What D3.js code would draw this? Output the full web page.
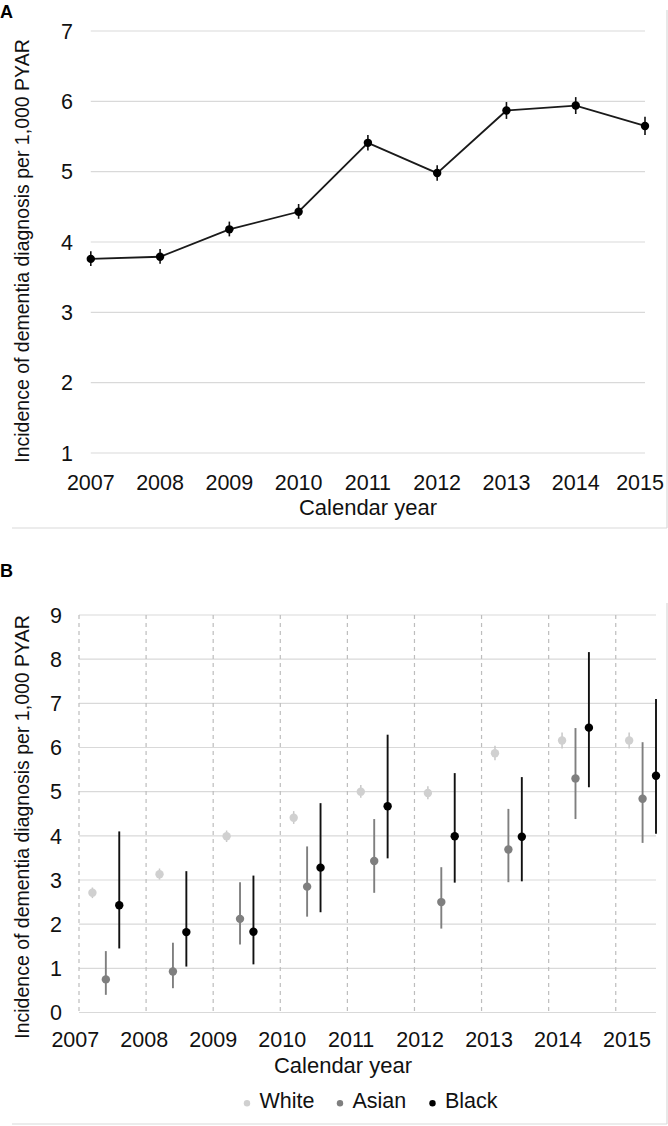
<!DOCTYPE html>
<html>
<head>
<meta charset="utf-8">
<script src="https://cdn.jsdelivr.net/npm/d3@7/dist/d3.min.js"></script>
<style>
  html, body { margin: 0; padding: 0; background: #ffffff; }
  svg { display: block; font-family: "Liberation Sans", Arial, sans-serif; }
</style>
</head>
<body>
<svg id="chart" width="668" height="1126"></svg>
<script>
// ---------- data ----------
const years = [2007, 2008, 2009, 2010, 2011, 2012, 2013, 2014, 2015];
const yearLabels = ["2007", "2008", "2009", "2010", "2011", "2012", "2013", "2014", "2015"];

// Panel A: overall incidence
const overallRate  = [3.76, 3.79, 4.18, 4.43, 5.41, 4.98, 5.87, 5.94, 5.65];
const overallLower = [3.66, 3.69, 4.08, 4.33, 5.30, 4.87, 5.75, 5.82, 5.52];
const overallUpper = [3.87, 3.90, 4.29, 4.54, 5.52, 5.09, 5.99, 6.06, 5.78];

// Panel B: by ethnicity
const seriesNames = ["White", "Asian", "Black"];
const whiteRate  = [2.71, 3.13, 3.99, 4.41, 5.00, 4.97, 5.87, 6.16, 6.16];
const whiteLower = [2.59, 3.01, 3.86, 4.27, 4.86, 4.83, 5.71, 5.98, 5.98];
const whiteUpper = [2.83, 3.26, 4.12, 4.56, 5.15, 5.12, 6.04, 6.34, 6.34];
const asianRate  = [0.75, 0.93, 2.12, 2.85, 3.43, 2.50, 3.69, 5.30, 4.84];
const asianLower = [0.40, 0.55, 1.54, 2.17, 2.71, 1.90, 2.95, 4.38, 3.84];
const asianUpper = [1.39, 1.58, 2.95, 3.76, 4.38, 3.29, 4.61, 6.44, 6.12];
const blackRate  = [2.43, 1.82, 1.83, 3.28, 4.67, 3.99, 3.98, 6.45, 5.36];
const blackLower = [1.45, 1.04, 1.09, 2.27, 3.49, 2.94, 2.97, 5.10, 4.05];
const blackUpper = [4.10, 3.20, 3.10, 4.74, 6.29, 5.42, 5.33, 8.16, 7.10];

const yTicksA = [1, 2, 3, 4, 5, 6, 7];
const yTicksB = [0, 1, 2, 3, 4, 5, 6, 7, 8, 9];
const xTitle = "Calendar year";
const yTitle = "Incidence of dementia diagnosis per 1,000 PYAR";

// ---------- style ----------
const gridColor = "#d9d9d9";
const seriesColors = { White: "#d0d0d0", Asian: "#7f7f7f", Black: "#000000" };
const barColors = { White: "#c8c8c8", Asian: "#7f7f7f", Black: "#111111" };
const seriesOffsets = { White: 0.2, Asian: 0.4, Black: 0.6 };
const tickFont = "21.5px";
const titleFont = "22px";

const svg = d3.select("#chart");

// panel frames (partial border lines)
svg.append("line").attr("x1", 12).attr("x2", 667).attr("y1", 528).attr("y2", 528)
  .attr("stroke", gridColor).attr("stroke-width", 1.2);
svg.append("line").attr("x1", 667).attr("x2", 667).attr("y1", 10).attr("y2", 528)
  .attr("stroke", gridColor).attr("stroke-width", 1.2);
svg.append("line").attr("x1", 12).attr("x2", 667).attr("y1", 1124).attr("y2", 1124)
  .attr("stroke", gridColor).attr("stroke-width", 1.2);
svg.append("line").attr("x1", 667).attr("x2", 667).attr("y1", 603).attr("y2", 1124)
  .attr("stroke", gridColor).attr("stroke-width", 1.2);

// panel letters
svg.append("text").attr("x", 0).attr("y", 18).text("A")
  .attr("font-size", "18px").attr("font-weight", "bold").attr("fill", "#000");
svg.append("text").attr("x", 0).attr("y", 577).text("B")
  .attr("font-size", "18px").attr("font-weight", "bold").attr("fill", "#000");

// ================= Panel A =================
const xA = d3.scaleLinear().domain([2007, 2015]).range([90.8, 645]);
const yA = d3.scaleLinear().domain([1, 7]).range([453, 31]);

const gA = svg.append("g");
gA.selectAll("line.grid").data(yTicksA).join("line")
  .attr("x1", xA.range()[0]).attr("x2", xA.range()[1])
  .attr("y1", d => yA(d)).attr("y2", d => yA(d))
  .attr("stroke", gridColor).attr("stroke-width", 1.2);

gA.selectAll("text.ytick").data(yTicksA).join("text")
  .attr("x", 73).attr("y", d => yA(d)).attr("dy", "0.36em")
  .attr("text-anchor", "end").attr("font-size", tickFont).attr("fill", "#111")
  .text(d => d);

const xLabA = gA.selectAll("text.xtick").data(years).join("text")
  .attr("x", d => xA(d)).attr("y", 490)
  .attr("text-anchor", "middle").attr("font-size", tickFont).attr("fill", "#111")
  .text((d, i) => yearLabels[i]);
// keep the last label inside the frame
xLabA.each(function () {
  const w = this.getComputedTextLength();
  const x = +d3.select(this).attr("x");
  if (x + w / 2 > 664) d3.select(this).attr("x", 664 - w / 2);
});

gA.append("text").attr("x", 368).attr("y", 515).attr("text-anchor", "middle")
  .attr("font-size", titleFont).attr("fill", "#111").text(xTitle);
gA.append("text").attr("transform", "translate(29,251) rotate(-90)")
  .attr("text-anchor", "middle").attr("font-size", "19.5px").attr("fill", "#111").text(yTitle);

const dataA = years.map((y, i) => ({ year: y, v: overallRate[i], lo: overallLower[i], hi: overallUpper[i] }));
gA.append("path").datum(dataA)
  .attr("fill", "none").attr("stroke", "#1a1a1a").attr("stroke-width", 1.8)
  .attr("d", d3.line().x(d => xA(d.year)).y(d => yA(d.v)));
gA.selectAll("line.err").data(dataA).join("line")
  .attr("x1", d => xA(d.year)).attr("x2", d => xA(d.year))
  .attr("y1", d => yA(d.lo)).attr("y2", d => yA(d.hi))
  .attr("stroke", "#111").attr("stroke-width", 1.6);
gA.selectAll("circle").data(dataA).join("circle")
  .attr("cx", d => xA(d.year)).attr("cy", d => yA(d.v)).attr("r", 4.2)
  .attr("fill", "#000");

// ================= Panel B =================
const xB = d3.scaleLinear().domain([2007, 2015.6]).range([79, 656]);
const xBLabel = d3.scaleLinear().domain([2007, 2015]).range([75.3, 627]);
const yB = d3.scaleLinear().domain([0, 9]).range([1012.5, 615]);

const gB = svg.append("g");
gB.selectAll("line.grid").data(yTicksB).join("line")
  .attr("x1", xB.range()[0]).attr("x2", xB.range()[1])
  .attr("y1", d => yB(d)).attr("y2", d => yB(d))
  .attr("stroke", gridColor).attr("stroke-width", 1.2);
gB.selectAll("line.vgrid").data(years).join("line")
  .attr("x1", d => xB(d)).attr("x2", d => xB(d))
  .attr("y1", yB(9)).attr("y2", yB(0))
  .attr("stroke", "#bdbdbd").attr("stroke-width", 1.2).attr("stroke-dasharray", "4,4");

gB.selectAll("text.ytick").data(yTicksB).join("text")
  .attr("x", 62).attr("y", d => yB(d)).attr("dy", "0.36em")
  .attr("text-anchor", "end").attr("font-size", tickFont).attr("fill", "#111")
  .text(d => d);
gB.selectAll("text.xtick").data(years).join("text")
  .attr("x", d => xBLabel(d)).attr("y", 1046.5)
  .attr("text-anchor", "middle").attr("font-size", tickFont).attr("fill", "#111")
  .text((d, i) => yearLabels[i]);
gB.append("text").attr("x", 343).attr("y", 1073).attr("text-anchor", "middle")
  .attr("font-size", titleFont).attr("fill", "#111").text(xTitle);
gB.append("text").attr("transform", "translate(29,827) rotate(-90)")
  .attr("text-anchor", "middle").attr("font-size", "19.5px").attr("fill", "#111").text(yTitle);

const seriesData = {
  White: { v: whiteRate, lo: whiteLower, hi: whiteUpper },
  Asian: { v: asianRate, lo: asianLower, hi: asianUpper },
  Black: { v: blackRate, lo: blackLower, hi: blackUpper }
};
seriesNames.forEach(name => {
  const s = seriesData[name];
  const pts = years.map((y, i) => ({ x: y + seriesOffsets[name], v: s.v[i], lo: s.lo[i], hi: s.hi[i] }));
  const g = gB.append("g");
  g.selectAll("line").data(pts).join("line")
    .attr("x1", d => xB(d.x)).attr("x2", d => xB(d.x))
    .attr("y1", d => yB(d.lo)).attr("y2", d => yB(d.hi))
    .attr("stroke", barColors[name]).attr("stroke-width", name === "White" ? 1.5 : 1.9);
  g.selectAll("circle").data(pts).join("circle")
    .attr("cx", d => xB(d.x)).attr("cy", d => yB(d.v)).attr("r", 4.2)
    .attr("fill", seriesColors[name]);
});

// legend
const legendX = { White: 247, Asian: 340, Black: 432.5 };
const lg = gB.append("g");
seriesNames.forEach(name => {
  lg.append("circle").attr("cx", legendX[name]).attr("cy", 1103.3).attr("r", 3.2)
    .attr("fill", seriesColors[name]);
  lg.append("text").attr("x", legendX[name] + 12.5).attr("y", 1108.3)
    .attr("font-size", tickFont).attr("fill", "#111").text(name);
});
</script>
</body>
</html>
